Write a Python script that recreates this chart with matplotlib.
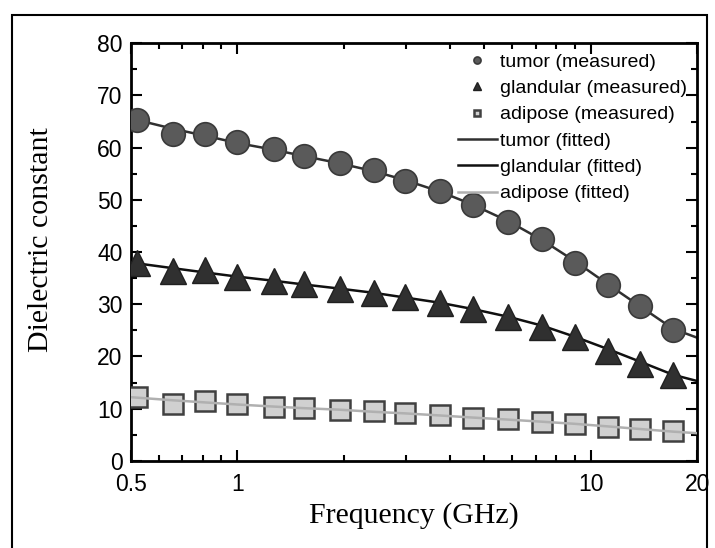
import numpy as np
import matplotlib.pyplot as plt
from matplotlib.patches import Rectangle
from matplotlib.ticker import FixedLocator, LogLocator, MultipleLocator, NullFormatter

# measured frequencies (GHz)
freq = [0.52, 0.66, 0.81, 1.0, 1.27, 1.54, 1.95, 2.43, 2.98, 3.74,
        4.63, 5.85, 7.29, 9.0, 11.2, 13.8, 17.1]

tumor_meas = [65.3, 62.7, 62.7, 61.0, 59.7, 58.5, 57.0, 55.7, 53.7, 51.7,
              49.0, 45.8, 42.5, 38.0, 33.7, 29.7, 25.1]
gland_meas = [38.0, 36.4, 36.6, 35.2, 34.5, 33.8, 33.0, 32.2, 31.3, 30.2,
              29.0, 27.6, 25.6, 23.8, 21.0, 18.6, 16.5]
adip_meas = [12.3, 10.9, 11.5, 10.9, 10.3, 10.1, 9.8, 9.5, 9.2, 8.7,
             8.3, 8.0, 7.5, 7.1, 6.5, 6.1, 5.7]

# fitted curves
fit_freq = [0.5, 0.66, 0.81, 1.0, 1.27, 1.54, 1.95, 2.43, 2.98, 3.74,
            4.63, 5.85, 7.29, 9.0, 11.2, 13.8, 17.1, 20.0]
tumor_fit = [65.6, 63.6, 62.3, 60.9, 59.6, 58.4, 57.0, 55.5, 53.8, 51.6,
             49.1, 45.9, 42.3, 38.3, 33.8, 29.6, 25.3, 23.6]
gland_fit = [38.0, 36.9, 36.1, 35.3, 34.5, 33.8, 33.0, 32.2, 31.3, 30.3,
             29.1, 27.6, 25.9, 23.8, 21.4, 19.0, 16.5, 15.3]
adip_fit = [12.2, 11.6, 11.2, 10.8, 10.4, 10.1, 9.8, 9.4, 9.1, 8.7,
            8.3, 7.9, 7.5, 7.1, 6.6, 6.1, 5.6, 5.3]

plt.rcParams['font.family'] = 'Liberation Sans'

fig = plt.figure(figsize=(7.15, 5.48), dpi=100)
ax = fig.add_axes([0.183, 0.159, 0.792, 0.762])

# outer frame of the scanned figure
fig.patches.append(Rectangle((0.017, -0.05), 0.972, 1.022, transform=fig.transFigure,
                             fill=False, edgecolor='black', linewidth=1.5))

ax.plot(freq, tumor_meas, 'o', ms=17, color='#5a5a5a', mec='#3a3a3a', mew=1.2,
        linestyle='none', label='tumor (measured)', zorder=3)
ax.plot(freq, gland_meas, '^', ms=19, color='#303030', mec='#202020', mew=1.0,
        linestyle='none', label='glandular (measured)', zorder=3)
ax.plot(freq, adip_meas, 's', ms=15, color='#d0d0d0', mec='#404040', mew=1.8,
        linestyle='none', label='adipose (measured)', zorder=3)
ax.plot(fit_freq, tumor_fit, '-', color='#303030', lw=1.8, label='tumor (fitted)', zorder=2)
ax.plot(fit_freq, gland_fit, '-', color='#101010', lw=1.8, label='glandular (fitted)', zorder=2)
ax.plot(fit_freq, adip_fit, '-', color='#b0b0b0', lw=1.8, label='adipose (fitted)', zorder=4)

ax.set_xscale('log')
ax.set_xlim(0.5, 20)
ax.set_ylim(0, 80)
ax.xaxis.set_major_locator(FixedLocator([0.5, 1, 10, 20]))
ax.set_xticklabels(['0.5', '1', '10', '20'])
ax.xaxis.set_minor_locator(LogLocator(base=10, subs=np.arange(2, 10)))
ax.xaxis.set_minor_formatter(NullFormatter())
ax.yaxis.set_major_locator(MultipleLocator(10))
ax.yaxis.set_minor_locator(MultipleLocator(5))

ax.tick_params(which='both', direction='in', top=True, right=True,
               labelsize=16.5, width=1.5)
ax.tick_params(axis='x', pad=9)
ax.tick_params(axis='y', pad=6)
ax.tick_params(which='major', length=8)
ax.tick_params(which='minor', length=4)
for sp in ax.spines.values():
    sp.set_linewidth(2)

ax.set_xlabel('Frequency (GHz)', family='Liberation Serif', fontsize=21.5, labelpad=4)
ax.set_ylabel('Dielectric constant', family='Liberation Serif', fontsize=21.5)
ax.yaxis.set_label_coords(-0.135, 0.53)

leg = ax.legend(loc='upper right', frameon=False, fontsize=14, markerscale=0.3,
                handlelength=2.0, handletextpad=0.2, labelspacing=0.45,
                borderaxespad=0.2, borderpad=0.3)

fig.savefig('out.png', dpi=100)
